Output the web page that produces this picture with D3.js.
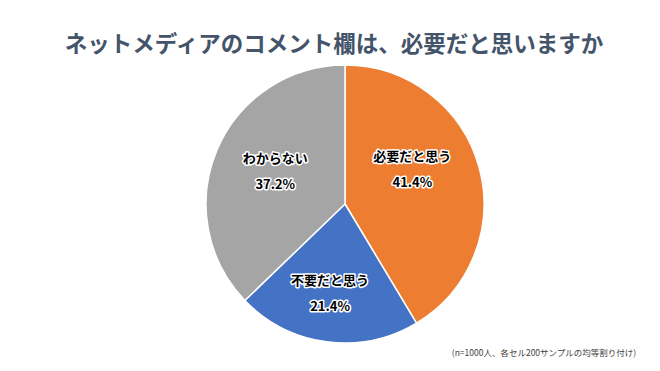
<!DOCTYPE html>
<html>
<head>
<meta charset="utf-8">
<script src="https://cdn.jsdelivr.net/npm/d3@7"></script>
<style>
  body { margin: 0; background: #fff; }
  text { font-family: "Noto Sans CJK JP", "Noto Sans", sans-serif; }
</style>
</head>
<body>
<div id="chart"></div>
<script>
// Chart size
var width = 660;
var height = 371;

// Data
var categories = ["必要だと思う", "不要だと思う", "わからない"];
var values = [41.4, 21.4, 37.2];
var colors = ["#ED7D31", "#4472C4", "#A5A5A5"];

// Label nudges (Excel "best fit" placement), px
var labelNudge = [[-13, -12], [-4, 7], [7, 0]];

var cx = 345, cy = 204, radius = 139;

var svg = d3.select("#chart")
    .append("svg")
    .attr("width", width)
    .attr("height", height);

// Title
svg.append("text")
    .attr("x", 334)
    .attr("y", 52)
    .attr("text-anchor", "middle")
    .style("font-size", "22.5px")
    .style("font-weight", "bold")
    .style("fill", "#44546A")
    .text("ネットメディアのコメント欄は、必要だと思いますか");

var pie = d3.pie().sort(null).value(d => d);
var arcs = pie(values);

var arc = d3.arc().innerRadius(0).outerRadius(radius);
var labelArc = d3.arc().innerRadius(radius * 0.6).outerRadius(radius * 0.6);

var g = svg.append("g")
    .attr("transform", "translate(" + cx + "," + cy + ")");

g.selectAll("path")
    .data(arcs)
    .enter().append("path")
    .attr("d", arc)
    .style("fill", (d, i) => colors[i])
    .style("stroke", "#fff")
    .style("stroke-width", 1.5);

// Labels with white halo
var labels = g.selectAll(".label")
    .data(arcs)
    .enter().append("g")
    .attr("class", "label")
    .attr("transform", function(d, i) {
        var c = labelArc.centroid(d);
        return "translate(" + (c[0] + labelNudge[i][0]) + "," + (c[1] + labelNudge[i][1]) + ")";
    });

[["name", -13], ["pct", 13]].forEach(function(p) {
    labels.append("text")
        .attr("y", p[1])
        .attr("dy", ".35em")
        .attr("text-anchor", "middle")
        .style("font-size", "13px")
        .style("font-weight", "bold")
        .style("fill", "#000")
        .style("stroke", "#fff")
        .style("stroke-width", 3)
        .style("stroke-linejoin", "round")
        .style("paint-order", "stroke")
        .text((d, i) => p[0] === "name" ? categories[i] : values[i].toFixed(1) + "%");
});

// Footnote
svg.append("text")
    .attr("x", 544)
    .attr("y", 356)
    .attr("text-anchor", "middle")
    .style("font-size", "8.5px")
    .style("fill", "#404040")
    .text("(n=1000人、各セル200サンプルの均等割り付け)");
</script>
</body>
</html>
